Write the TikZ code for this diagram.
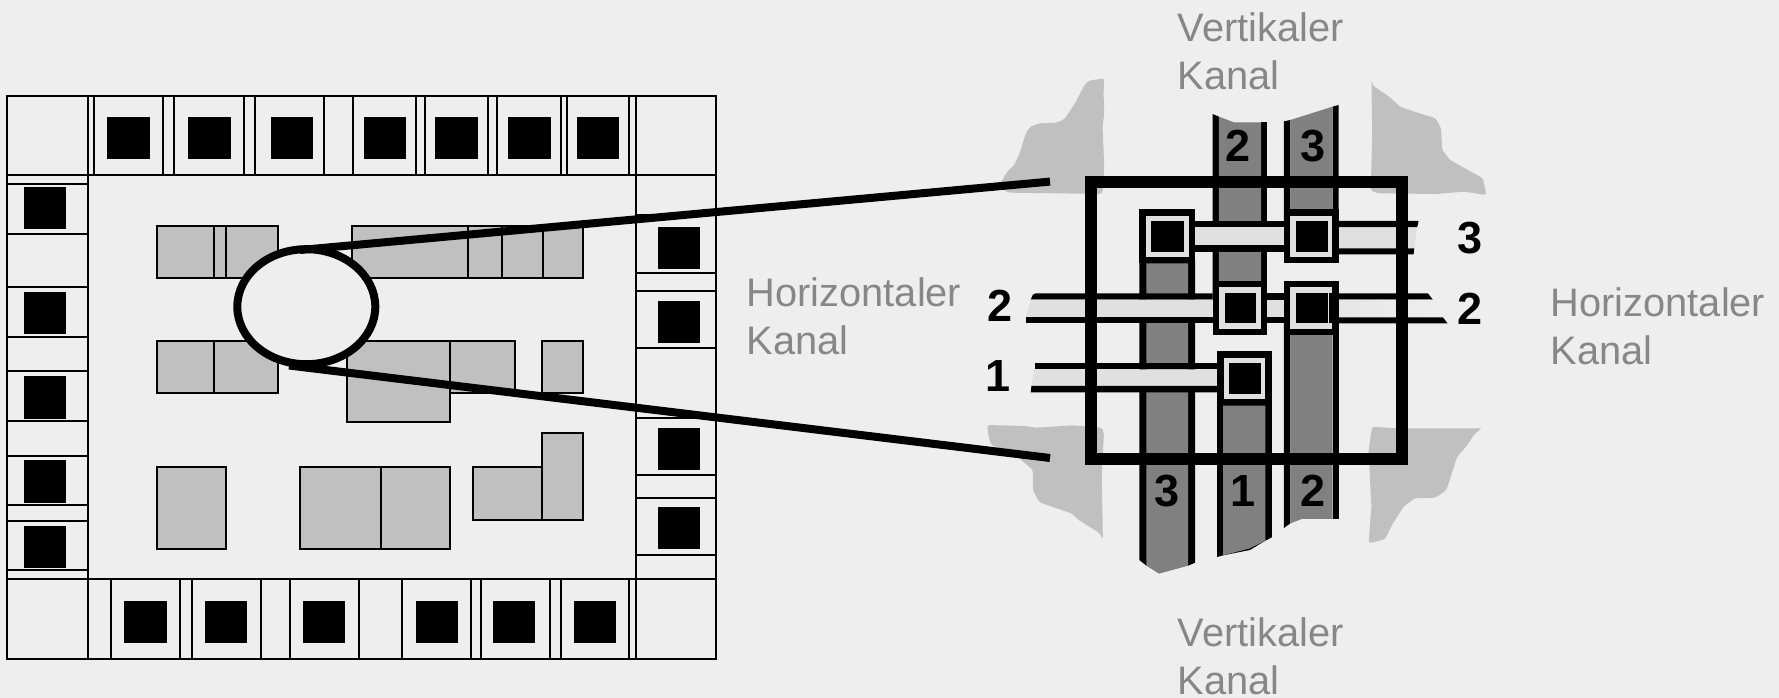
\documentclass[tikz,border=0pt]{standalone}
\usepackage{fontspec}
\setmainfont{Liberation Sans}
\definecolor{bgc}{HTML}{EEEEEE}
\definecolor{cellc}{HTML}{C0C0C0}
\definecolor{chanc}{HTML}{808080}
\definecolor{barc}{HTML}{E0E0E0}
\definecolor{barlite}{HTML}{E6E6E6}
\definecolor{labc}{HTML}{878787}
\tikzset{
  thinbox/.style={draw=black,line width=1.7pt},
  cellbox/.style={draw=black,line width=1.7pt,fill=cellc},
  blob/.style={fill=cellc,rounded corners=2.5pt},
  chlabel/.style={text=labc,font=\fontsize{39.8}{48}\selectfont,align=left,anchor=south west,inner sep=0pt},
  num/.style={font=\fontsize{45}{45}\selectfont\bfseries,text=black,inner sep=0pt,anchor=center},
  beam/.style={draw=black,line width=8pt}
}
\newcommand{\viapad}[3]{% x-left, y-top, x-right of black frame in zoom units
  \fill[black] (#1,#2) rectangle (#3,#2+163);
  \fill[barc] ({#1+18},#2+20) rectangle ({#3-18},#2+144);
  \fill[black] ({#1+34},#2+37) rectangle ({#3-31},#2+128);
}
\begin{document}
\begin{tikzpicture}[x=1pt,y=-1pt]
\useasboundingbox (0,0) rectangle (1779,698);
\fill[bgc] (0,0) rectangle (1779,698);

% ---------- chip overview ----------
\draw[thinbox] (7,96) rectangle (716,659);
\draw[thinbox] (7,175) -- (716,175);
\draw[thinbox] (7,578.7) -- (716,578.7);
\draw[thinbox] (88,96) -- (88,659);
\draw[thinbox] (635.7,96) -- (635.7,659);

% top pads
\foreach \a/\b/\c/\d in {94.3/163.3/107/149.7,174.3/244/188/230.7,255/324/271/313.3,353/416.3/363.7/406,425.3/488/435.3/478,497.3/560.7/508.3/550.7,566.7/629.3/577/619.3}{
  \draw[thinbox] (\a,96) rectangle (\b,175);
  \fill[black] (\c,116.7) rectangle (\d,159);
}
% bottom pads
\foreach \a/\b/\c/\d in {111.3/180.3/124.3/166.7,191.7/261/205.3/247.3,290/358.7/302.7/345,402/470.7/415.7/458,480.7/549.7/493.3/535,560.7/629.3/573.7/616}{
  \draw[thinbox] (\a,578.7) rectangle (\b,659);
  \fill[black] (\c,601) rectangle (\d,643.3);
}
% left pads
\foreach \a/\b/\c/\d in {184.3/233.7/187/229,287/336.7/292/334,371/421/376/418.7,455.7/505.3/460.3/503.3,521.3/570.3/525.7/568.3}{
  \draw[thinbox] (7,\a) rectangle (88,\b);
  \fill[black] (24,\c) rectangle (66,\d);
}
% right pads
\foreach \a/\b/\c/\d in {215/273/227/269.3,290.7/347.7/301.3/343.3,417.7/475.3/428/470.3,497.7/555.3/506.7/548.7}{
  \draw[thinbox] (635.7,\a) rectangle (716,\b);
  \fill[black] (657.7,\c) rectangle (700.3,\d);
}

% logic cells
\draw[cellbox] (156.7,225.7) rectangle (213.7,277.7);
\draw[cellbox] (213.7,225.7) rectangle (225.7,277.7);
\draw[cellbox] (225.7,225.7) rectangle (277.7,277.7);
\draw[cellbox] (352.3,225.7) rectangle (468,277.7);
\draw[cellbox] (468,225.7) rectangle (583.3,277.7);
\draw[cellbox] (502.3,225.7) rectangle (542.7,278.3);
\draw[cellbox] (156.7,340.7) rectangle (214,393);
\draw[cellbox] (214,340.7) rectangle (278,393);
\draw[cellbox] (346.7,340.7) rectangle (450.3,422);
\draw[cellbox] (450.3,340.7) rectangle (514.7,393);
\draw[cellbox] (542.3,340.7) rectangle (583.3,393);
\draw[cellbox] (156.7,467.3) rectangle (226,549);
\draw[cellbox] (300,467.3) rectangle (381,549);
\draw[cellbox] (381,467.3) rectangle (450.3,549);
\draw[cellbox] (473.3,467.3) rectangle (542.3,519.7);
\draw[cellbox] (542.3,433.3) rectangle (583,519.7);

% magnifier
\coordinate (upA) at (300,250);
\coordinate (upB) at (1050,181.6);
\coordinate (loA) at (289,365.5);
\coordinate (loB) at (1050,458);
\draw[beam,fill=bgc] (306.3,306.7) ellipse [x radius=69,y radius=57.5];

% ---------- zoomed routing detail ----------
\begin{scope}[shift={(950pt,0pt)},x=0.357143pt,y=-0.33333pt]
% corner blobs
\fill[blob] (432,235)--(388,242)--(375,258)--(350,310)--(320,358)--(300,368)--(250,370)--(225,380)--(212,400)--(195,460)--(180,495)--(160,515)--(135,560)--(165,578)--(425,582)--(428,570)--(432,500)--(427,380)--(432,340)--(430,280)--cycle;
\fill[blob] (1180,240)--(1185,258)--(1230,290)--(1260,320)--(1300,335)--(1360,355)--(1375,385)--(1378,450)--(1400,480)--(1450,510)--(1492,535)--(1502,585)--(1440,575)--(1360,582)--(1200,580)--(1178,572)--(1182,400)--cycle;
\fill[blob] (104,1275)--(210,1278)--(240,1283)--(345,1276)--(425,1283)--(431,1300)--(425,1420)--(428,1620)--(420,1600)--(360,1560)--(340,1540)--(250,1507)--(232,1470)--(232,1410)--(205,1385)--(180,1362)--(115,1335)--(108,1310)--cycle;
\fill[blob] (1182,1280)--(1250,1285)--(1490,1285)--(1470,1300)--(1445,1340)--(1420,1370)--(1405,1420)--(1390,1470)--(1360,1493)--(1300,1495)--(1270,1520)--(1240,1570)--(1218,1618)--(1172,1630)--(1180,1520)--(1175,1420)--(1172,1350)--cycle;

% vertical channels: black sides and grey core
\fill[black] (530,780)--(530,1680)--(550,1697)--(667,1697)--(686,1688)--(686,780)--cycle;
\fill[chanc] (550,790)--(550,1697)--(585,1721)--(667,1697)--(667,790)--cycle;

\fill[black] (735,342)--(753,350)--(753,900)--(735,900)--cycle;
\fill[black] (871,367)--(888,367)--(888,900)--(871,900)--cycle;
\fill[chanc] (753,350)--(795,367)--(871,367)--(871,900)--(753,900)--cycle;

\fill[black] (748,1100)--(901,1100)--(901,1612)--(883,1622)--(840,1650)--(765,1666)--(748,1671)--cycle;
\fill[chanc] (765,1217)--(883,1217)--(883,1622)--(840,1645)--(765,1666)--cycle;

\fill[black] (935,364)--(953,360)--(953,700)--(935,700)--cycle;
\fill[black] (1071,320)--(1088,315)--(1088,700)--(1071,700)--cycle;
\fill[chanc] (953,360)--(1071,320)--(1071,700)--(953,700)--cycle;

\fill[black] (935,900)--(953,900)--(953,1570)--(935,1584)--cycle;
\fill[black] (1071,900)--(1088,900)--(1088,1558)--(1071,1558)--cycle;
\fill[chanc] (953,1000)--(1071,1000)--(1071,1557)--(985,1557)--(953,1570)--cycle;

% horizontal channel 3
\fill[black] (686,663) rectangle (935,755);
\fill[barc] (686,682) rectangle (935,735);
\fill[black] (1088,663)--(1312,663)--(1308,682)--(1088,682)--cycle;
\fill[barc] (1088,682)--(1308,682)--(1300,745)--(1088,745)--cycle;
\fill[black] (1088,745)--(1300,745)--(1298,763)--(1088,763)--cycle;
% horizontal channel 2
\fill[black] (226,899)--(232,884)--(240,880)--(735,880)--(735,899)--cycle;
\fill[barc] (226,899)--(735,899)--(735,952)--(213,952)--cycle;
\fill[black] (213,952) rectangle (735,970);
\fill[black] (888,880) rectangle (935,970);
\fill[barc] (888,899) rectangle (935,952);
\fill[black] (1088,880)--(1338,880)--(1352,899)--(1088,899)--cycle;
\shade[left color=barlite,right color=bgc] (1081,899)--(1352,899)--(1380,952)--(1081,952)--cycle;
\fill[black] (1081,952)--(1380,952)--(1393,970)--(1081,970)--cycle;
% horizontal channel 1
\fill[black] (238,1090) rectangle (748,1108);
\fill[barc] (236,1108)--(748,1108)--(748,1158)--(228,1158)--cycle;
\fill[black] (228,1158)--(748,1158)--(748,1177)--(226,1177)--cycle;

% vias
\viapad{530}{627}{686}
\viapad{935}{627}{1088}
\viapad{735}{842}{888}
\viapad{935}{842}{1088}
\fill[black] (1062,880) rectangle (1070,970);
\fill[black] (1070,880) rectangle (1081,899);
\fill[black] (1070,952) rectangle (1081,970);
\viapad{748}{1053}{901}

% switch box frame
\draw[draw=black,line width=11.7pt] (395,546) rectangle (1266,1376);

% channel numbers
\node[num] (t2) at (805,437) {2};
\node[num] (t3) at (1016,437) {3};
\node[num] (b3) at (608,1473) {3};
\node[num] (b1) at (820,1473) {1};
\node[num] (b2) at (1016,1473) {2};
\node[num] (l2) at (140,917) {2};
\node[num] (l1) at (135,1127) {1};
\node[num] (r3) at (1457,715) {3};
\node[num] (r2) at (1457,925) {2};
\end{scope}

\draw[beam] (upA) -- (upB);
\draw[beam] (loA) -- (loB);

% ---------- texts ----------
\node[chlabel] (vt) at (1177.5,90.3) {Vertikaler\\Kanal};
\node[chlabel] (vb) at (1177.5,694.6) {Vertikaler\\Kanal};
\node[chlabel] (hl) at (746.5,354.8) {Horizontaler\\Kanal};
\node[chlabel] (hr) at (1550.5,365) {Horizontaler\\Kanal};
\end{tikzpicture}
\end{document}
